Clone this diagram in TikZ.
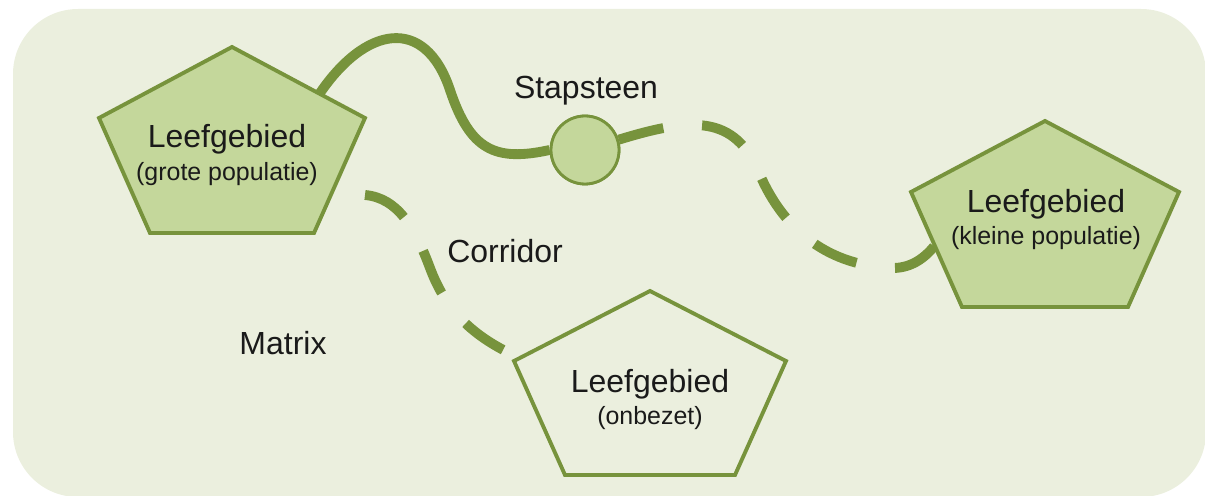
\documentclass[tikz,border=0pt]{standalone}
\usepackage{fontspec}
\setmainfont{Liberation Sans}
\definecolor{bg}{HTML}{EBEFDE}
\definecolor{lf}{HTML}{C4D79B}
\definecolor{ol}{HTML}{77933C}
\definecolor{tx}{HTML}{1A1A1A}
\begin{document}
\begin{tikzpicture}[x=0.02cm,y=-0.02cm,
  pent/.style={draw=ol, line width=2.2pt, line join=miter},
  stone/.style={circle, draw=ol, fill=lf, line width=1.6pt, minimum size=1.36cm, inner sep=0pt},
  link/.style={draw=ol, line width=5.6pt},
  dashlink/.style={link, dash pattern=on 0.92cm off 0.78cm},
  big/.style={font=\fontsize{18.2}{21}\selectfont, text=tx, inner sep=0pt, anchor=base},
  small/.style={font=\fontsize{14.2}{17}\selectfont, text=tx, inner sep=0pt, anchor=base}]
\useasboundingbox (0,0) rectangle (1205,496);
\fill[bg, rounded corners=1.3cm] (13,9) rectangle (1206,497);

% connector end points
\coordinate (a1) at (318,96);
\coordinate (c1) at (365,195);
\coordinate (c2) at (520,358);
\coordinate (b2) at (940,238);

% stepping stone
\node[stone] (steen) at (585,150) {};

% connectors (under shapes)
\draw[link] (a1) .. controls (365,25) and (425,15) .. (450,90)
  .. controls (470,150) and (495,162) .. (steen.west);
\draw[dashlink] (steen.17) .. controls (690,118) and (735,113) .. (760,175)
  .. controls (785,232) and (830,266) .. (893,268)
  .. controls (912,268) and (928,257) .. (b2);
\draw[dashlink] (c1) .. controls (398,198) and (415,228) .. (430,268)
  .. controls (445,308) and (470,336) .. (c2);
\node[stone] at (steen) {};

% pentagons
\filldraw[pent, fill=lf] (232,47) -- (365,118) -- (314,233) -- (150,233) -- (99,118) -- cycle;
\filldraw[pent, fill=bg] (650,291) -- (786,361) -- (735,475) -- (565,475) -- (514,361) -- cycle;
\filldraw[pent, fill=lf] (1045,121) -- (1179,192) -- (1128,307) -- (962,307) -- (911,192) -- cycle;

% labels
\node[big] (t1) at (227,148) {Leefgebied};
\node[small] (s1) at (227,181) {(grote populatie)};
\node[big] (t2) at (650,393) {Leefgebied};
\node[small] (s2) at (650,425) {(onbezet)};
\node[big] (t3) at (1046,213) {Leefgebied};
\node[small] (s3) at (1046,245) {(kleine populatie)};
\node[big] (stap) at (586,99) {Stapsteen};
\node[big] (corr) at (505,263) {Corridor};
\node[big] (matr) at (283,355) {Matrix};
\end{tikzpicture}
\end{document}
